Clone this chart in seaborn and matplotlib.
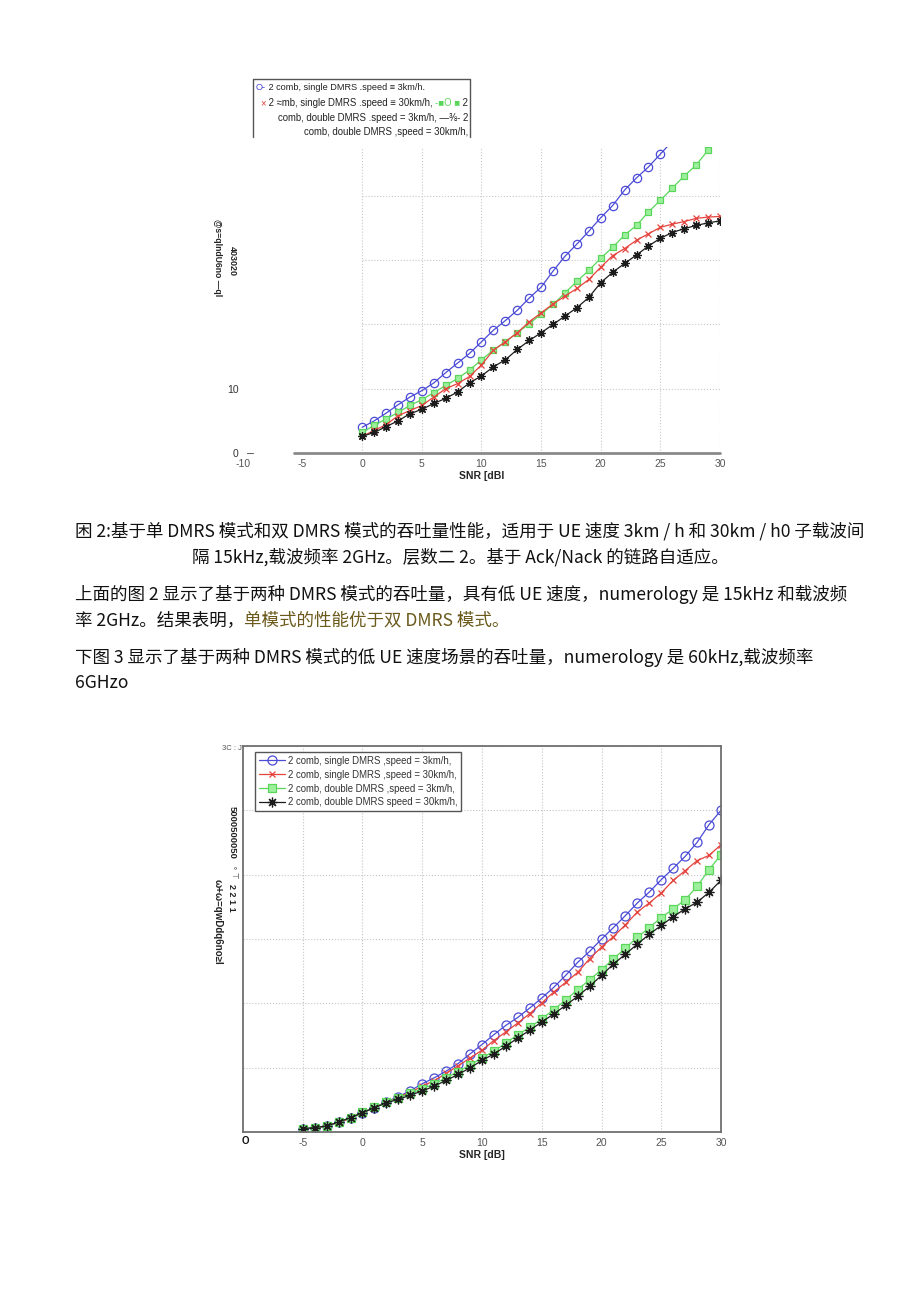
import numpy as np
import pandas as pd
import seaborn as sns
import matplotlib.pyplot as plt

# ---- figure 2 (upper chart): throughput vs SNR, 0..30 dB ----
snr_fig2 = [0, 1, 2, 3, 4, 5, 6, 7, 8, 9, 10, 11, 12, 13, 14, 15,
            16, 17, 18, 19, 20, 21, 22, 23, 24, 25, 26, 27, 28, 29, 30]
fig2_single_3 = [4.0, 5.0, 6.2, 7.5, 8.7, 9.7, 10.9, 12.5, 14.0, 15.5, 17.3, 19.1, 20.6,
                 22.2, 24.1, 25.8, 28.3, 30.6, 32.5, 34.5, 36.6, 38.5, 40.9, 42.8, 44.5,
                 46.5, 48.5]
fig2_single_30 = [2.6, 3.5, 4.4, 5.8, 6.6, 7.4, 8.7, 10.0, 10.8, 11.9, 13.7, 16.0, 17.3,
                  18.7, 20.4, 21.8, 23.2, 24.4, 25.6, 27.0, 28.9, 30.7, 31.8, 33.1, 34.1,
                  35.1, 35.6, 36.0, 36.5, 36.7, 36.8]
fig2_double_3 = [3.2, 4.3, 5.3, 6.3, 7.4, 8.3, 9.4, 10.5, 11.6, 12.9, 14.5, 16.0, 17.3,
                 18.7, 20.1, 21.6, 23.1, 24.9, 26.7, 28.4, 30.3, 32.0, 33.9, 35.4, 37.5,
                 39.3, 41.2, 43.1, 44.8, 47.1, 50.3]
fig2_double_30 = [2.6, 3.2, 4.1, 5.0, 6.1, 6.8, 7.7, 8.5, 9.5, 10.9, 12.0, 13.4, 14.5,
                  16.1, 17.5, 18.7, 20.0, 21.3, 22.6, 24.2, 26.5, 28.1, 29.5, 30.8, 32.2,
                  33.4, 34.3, 34.9, 35.4, 35.8, 36.1]
fig2_xticks = [-10, -5, 0, 5, 10, 15, 20, 25, 30]
fig2_ygrid = [10, 20, 30, 40]

# ---- figure 3 (lower chart): throughput vs SNR, -5..30 dB ----
snr_fig3 = [-5, -4, -3, -2, -1, 0, 1, 2, 3, 4, 5, 6, 7, 8, 9, 10, 11, 12,
            13, 14, 15, 16, 17, 18, 19, 20, 21, 22, 23, 24, 25, 26, 27, 28, 29, 30]
fig3_single_3 = [2.5, 2.8, 4.5, 7.5, 11.0, 15.0, 19.0, 23.5, 27.5, 32.0, 37.5, 42.1,
                 47.3, 53.2, 60.7, 68.0, 75.7, 82.9, 89.1, 96.4, 104.1, 112.4, 121.7,
                 131.8, 140.3, 149.9, 158.9, 168.2, 178.0, 186.5, 196.1, 204.9, 214.2,
                 225.1, 238.9, 250.0]
fig3_single_30 = [2.6, 3.2, 4.6, 7.5, 10.5, 15.0, 19.0, 23.0, 27.0, 31.0, 35.5, 40.0,
                  45.5, 51.5, 57.5, 63.6, 71.1, 77.8, 84.8, 92.0, 100.3, 108.8, 116.3,
                  124.0, 134.6, 143.7, 151.9, 161.0, 171.0, 178.0, 185.8, 195.6, 203.1,
                  210.9, 215.0, 223.3]
fig3_double_3 = [2.6, 3.4, 4.7, 7.8, 11.2, 15.2, 19.2, 23.2, 26.5, 30.0, 33.5, 37.5,
                 42.0, 47.0, 52.0, 57.6, 62.8, 69.2, 75.7, 81.4, 87.9, 95.1, 102.6,
                 110.6, 118.3, 126.1, 134.6, 142.9, 151.2, 158.9, 166.7, 173.3, 180.6,
                 190.9, 203.9, 215.5]
fig3_double_30 = [2.6, 3.4, 4.7, 7.8, 11.1, 15.0, 18.9, 22.7, 25.3, 28.7, 31.8, 35.7,
                  40.1, 44.7, 49.9, 55.6, 60.7, 66.7, 73.1, 79.1, 85.5, 91.7, 98.4,
                  105.4, 113.2, 121.7, 130.5, 138.2, 146.0, 153.7, 160.5, 167.4, 173.4,
                  178.6, 186.3, 195.6]
fig3_xticks = [-5, 0, 5, 10, 15, 20, 25, 30]
fig3_yticks = [0, 50, 100, 150, 200, 250, 300]
fig3_labels = ["2 comb, single DMRS ,speed = 3km/h,",
               "2 comb, single DMRS ,speed = 30km/h,",
               "2 comb, double DMRS ,speed = 3km/h,",
               "2 comb, double DMRS speed = 30km/h,"]

# ---- body text ----
caption_1 = "困 2:基于单 DMRS 模式和双 DMRS 模式的吞吐量性能，适用于 UE 速度 3km / h 和 30km / h0 子载波间"
caption_2 = "隔 15kHz,载波频率 2GHz。层数二 2。基于 Ack/Nack 的链路自适应。"
para_1a = "上面的图 2 显示了基于两种 DMRS 模式的吞吐量，具有低 UE 速度，numerology 是 15kHz 和载波频"
para_1b = "率 2GHz。结果表明，"
para_1c = "单模式的性能优于双 DMRS 模式。"
para_2a = "下图 3 显示了基于两种 DMRS 模式的低 UE 速度场景的吞吐量，numerology 是 60kHz,载波频率"
para_2b = "6GHzo"

BLUE = "#4b4bd6"
RED = "#e5433d"
GREEN = "#5ad65a"
GREEN_FACE = "#9cf09c"
BLACK = "#1c1c1c"
CJK = ["Noto Sans CJK SC", "DejaVu Sans"]
LAT = ["Liberation Sans", "DejaVu Sans"]

sns.set_style("white")
plt.rcParams['font.family'] = LAT
plt.rcParams['axes.unicode_minus'] = False

W, H = 920, 1301
fig = plt.figure(figsize=(W / 100, H / 100), dpi=100)

# full-page axes in pixel units for the loose text
bg = fig.add_axes([0, 0, 1, 1], zorder=-1)
bg.set_xlim(0, W)
bg.set_ylim(H, 0)
bg.axis('off')


def draw_series(ax, x, y, color, marker, ms, face, label=None):
    sns.lineplot(x=x[:len(y)], y=y, ax=ax, color=color, marker=marker, markersize=ms,
                 markerfacecolor=face, markeredgecolor=color, markeredgewidth=0.9,
                 linewidth=0.9, label=label, sort=False, errorbar=None)


# ================= upper chart =================
ax1 = fig.add_axes([243 / W, 1 - 453 / H, 477 / W, 306 / H])
draw_series(ax1, snr_fig2, fig2_single_3, BLUE, 'o', 6, 'none')
draw_series(ax1, snr_fig2, fig2_double_3, GREEN, 's', 5, GREEN_FACE)
draw_series(ax1, snr_fig2, fig2_single_30, RED, 'x', 4.5, RED)
draw_series(ax1, snr_fig2, fig2_double_30, BLACK, (8, 2, 0), 6, BLACK)
if ax1.get_legend() is not None:
    ax1.get_legend().remove()
ax1.set_xlim(-10, 30)
ax1.set_ylim(0, 47.6)
for s in ax1.spines.values():
    s.set_visible(False)
ax1.hlines(fig2_ygrid, 0, 30, colors='#c9c9c9', linestyles=':', lw=0.8, zorder=0)
ax1.vlines(fig2_xticks[2:], 0, ax1.get_ylim()[1], colors='#c9c9c9', linestyles=':', lw=0.8, zorder=0)
ax1.axhline(0, xmin=(-5.7 + 10) / 40, xmax=1, color='#8a8a8a', lw=2, clip_on=False, zorder=1)
ax1.set_xticks(fig2_xticks)
ax1.set_xticklabels([str(t) for t in fig2_xticks])
ax1.set_yticks([0, 10])
ax1.set_yticklabels(["0", "10"])
ax1.tick_params(length=0, labelsize=7.5, colors='#555555', pad=4)
ax1.tick_params(axis='y', pad=3, colors='#333333')
ax1.set_xlabel("SNR [dBI", fontsize=7.5, fontweight='bold', labelpad=2)
ax1.set_ylabel("")

# broken legend of the upper chart
bg.plot([253, 253, 470, 470], [137, 79, 79, 137], color='#555555', lw=1)
lf = dict(fontsize=6.6, va='center', color='#222222', family=LAT)
lf2 = {**lf, 'fontsize': 6.9}
t = bg.text(256, 88, "O-", **{**lf, 'color': BLUE})
bg.annotate(" 2 comb, single DMRS .speed ≡ 3km/h.", xy=(1, 0.5), xycoords=t, ha='left', **lf)
t = bg.text(468, 103, " 2", ha='right', **lf2)
t = bg.annotate("-■O ■", xy=(0, 0.5), xycoords=t, ha='right', **{**lf2, 'color': GREEN})
t = bg.annotate(" 2 ≈mb, single DMRS .speed ≡ 30km/h, ", xy=(0, 0.5), xycoords=t, ha='right', **lf2)
bg.annotate("×", xy=(0, 0.5), xycoords=t, ha='right', **{**lf2, 'color': RED})
bg.text(468, 118, "comb, double DMRS .speed = 3km/h, —⅜- 2", ha='right', **lf2)
bg.text(468, 132, "comb, double DMRS ,speed = 30km/h,", ha='right', **lf2)

# garbled y-axis text of the upper chart
bg.text(232, 261, "403020", rotation=270, ha='center', va='center', fontsize=6.5,
        fontweight='bold', color='#222222')
bg.text(218, 258, "@s=qlndU6no —ql", rotation=270, ha='center', va='center', fontsize=6.2,
        fontweight='bold', color='#222222')
bg.plot([247, 247, 253], [449, 453, 453], color='#666666', lw=0.8)

# ================= body text =================
tf = dict(fontsize=12.6, family=CJK, va='center', color='#111111')
bg.text(75, 531, caption_1, **tf)
bg.text(460, 557, caption_2, ha='center', **tf)
bg.text(75, 594, para_1a, **tf)
t = bg.text(75, 620, para_1b, **tf)
bg.annotate(para_1c, xy=(1, 0.5), xycoords=t, ha='left', **{**tf, 'color': '#6b5a1c'})
bg.text(75, 657, para_2a, **tf)
bg.text(75, 683, para_2b, **tf)

# ================= lower chart =================
ax2 = fig.add_axes([243 / W, 1 - 1132 / H, 478 / W, 386 / H])
draw_series(ax2, snr_fig3, fig3_single_3, BLUE, 'o', 6.5, 'none', fig3_labels[0])
draw_series(ax2, snr_fig3, fig3_single_30, RED, 'x', 5, RED, fig3_labels[1])
draw_series(ax2, snr_fig3, fig3_double_3, GREEN, 's', 5.5, GREEN_FACE, fig3_labels[2])
draw_series(ax2, snr_fig3, fig3_double_30, BLACK, (8, 2, 0), 7, BLACK, fig3_labels[3])
ax2.set_xlim(-10, 30)
ax2.set_ylim(0, 300)
ax2.set_xticks(fig3_xticks)
ax2.set_xticklabels([str(t) for t in fig3_xticks])
ax2.set_yticks(fig3_yticks)
ax2.set_yticklabels([])
ax2.grid(True, ls=':', color='#c4c4c4', lw=0.8)
ax2.set_axisbelow(True)
for s in ax2.spines.values():
    s.set_color('#707070')
    s.set_linewidth(1.3)
ax2.tick_params(length=0, labelsize=7.5, colors='#555555', pad=4)
ax2.set_xlabel("SNR [dB]", fontsize=7.5, fontweight='bold', labelpad=2)
ax2.set_ylabel("")
ax2.legend(loc='upper left', bbox_to_anchor=(12 / 478, 1 - 6 / 386), borderaxespad=0,
           fontsize=6.9, frameon=True, fancybox=False, framealpha=1, edgecolor='#555555',
           handlelength=2.7, handletextpad=0.3, labelspacing=0.4, borderpad=0.4)
ax2.get_legend().get_frame().set_linewidth(1.0)
for txt in ax2.get_legend().get_texts():
    txt.set_color('#333333')

bg.text(232, 748, "3C : J", ha='center', va='center', fontsize=5.5, color='#555555')
bg.text(245, 1141, "O", ha='center', va='center', fontsize=7, fontweight='bold', color='#111111')
bg.text(232, 832, "5000500050", rotation=270, ha='center', va='center', fontsize=6.8,
        fontweight='bold', color='#222222')
bg.text(234, 872, "∘ ⊤", rotation=270, ha='center', va='center', fontsize=5.5, color='#444444')
bg.text(232, 898, "2 2 1 1", rotation=270, ha='center', va='center', fontsize=6.5,
        fontweight='bold', color='#222222')
bg.text(218, 922, "ω+ω=qwDdq6no≥l", rotation=270, ha='center', va='center', fontsize=7,
        fontweight='bold', color='#222222')

fig.savefig("out.png", dpi=100)
